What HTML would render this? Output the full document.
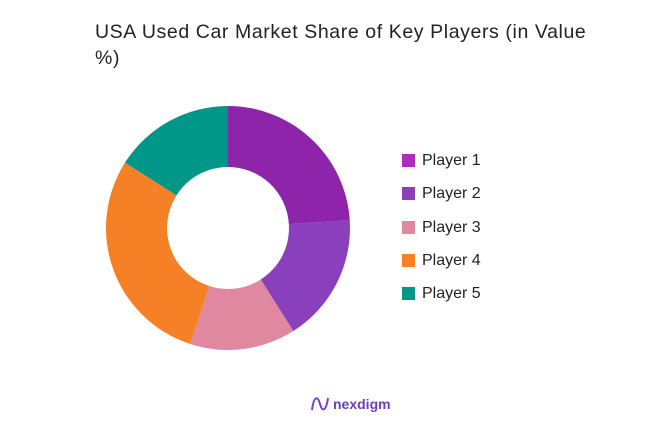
<!DOCTYPE html>
<html><head><meta charset="utf-8"><style>
body{margin:0;width:664px;height:423px;background:#fff;font-family:"Liberation Sans",sans-serif;overflow:hidden;position:relative}
#title{position:absolute;left:95px;top:19px;width:560px;font-size:19.5px;line-height:26px;color:#222;letter-spacing:0.6px}
.leg{position:absolute;left:402px;font-size:16px;color:#222;height:16px;line-height:16px}
.leg span.sw{position:absolute;left:0;top:1px;width:13px;height:13px}
.leg span.t{position:absolute;left:20px;white-space:nowrap}
</style></head><body>
<div id="title">USA Used Car Market Share of Key Players (in Value<br>%)</div>
<svg id="chart" width="664" height="423" style="position:absolute;left:0;top:0">
<g id="slices"></g>
<g>
<path d="M312 410 C314 395,318 396,320 404 C322 412,326 412,328 398" stroke="#7b3fbf" stroke-width="2" fill="none"/>
<text x="333" y="409" font-size="14" fill="#6a3fb8" font-family="Liberation Sans, sans-serif" font-weight="bold">nexdigm</text>
</g>
</svg>
<div id="legend"></div>
<script>
const categories=["Player 1","Player 2","Player 3","Player 4","Player 5"];
const values=[24,17,14,29,16];
const colors=["#8E24AA","#8A3FBC","#DF88A0","#F58025","#009688"];
const legendColors=["#B02BBE","#8A3FBC","#DF88A0","#F58025","#009688"];
const cx=228,cy=228,R=122,r=61;
const total=values.reduce((a,b)=>a+b,0);
const g=document.getElementById('slices');
let a0=0;
function pt(a,rad){return [cx+rad*Math.sin(a),cy-rad*Math.cos(a)];}
values.forEach((v,i)=>{
 const a1=a0+v/total*2*Math.PI;
 const large=(a1-a0)>Math.PI?1:0;
 const [x0,y0]=pt(a0,R),[x1,y1]=pt(a1,R),[x2,y2]=pt(a1,r),[x3,y3]=pt(a0,r);
 const p=document.createElementNS('http://www.w3.org/2000/svg','path');
 p.setAttribute('d',`M${x0} ${y0}A${R} ${R} 0 ${large} 1 ${x1} ${y1}L${x2} ${y2}A${r} ${r} 0 ${large} 0 ${x3} ${y3}Z`);
 p.setAttribute('fill',colors[i]);
 
 
 g.appendChild(p);
 a0=a1;
});
const leg=document.getElementById('legend');
categories.forEach((c,i)=>{
 const d=document.createElement('div');
 d.className='leg';
 d.style.top=(153+i*33.3)+'px';
 
 
 d.innerHTML='<span class="sw" style="background:'+legendColors[i]+'"></span><span class="t">'+c+'</span>';
 leg.appendChild(d);
});
</script>
</body></html>
